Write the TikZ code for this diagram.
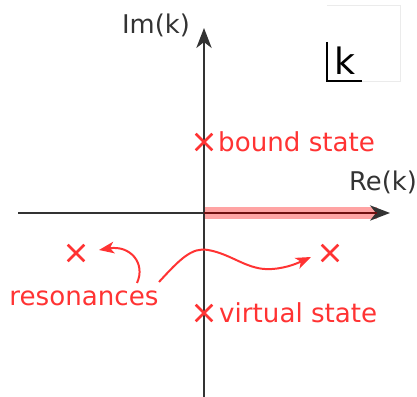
\documentclass[tikz,border=0pt]{standalone}
\usepackage{fontspec}
\setmainfont{DejaVu Sans}
\usetikzlibrary{arrows.meta,shapes.misc}
\definecolor{axisgray}{HTML}{333333}
\definecolor{polered}{HTML}{FF3333}
\tikzset{
  axis/.style={draw=axisgray, line width=2pt, -{Stealth[length=17pt,width=13pt,inset=5pt]}},
  pole/.style={cross out, draw=polered, line width=2.2pt, minimum size=12pt, inner sep=0pt},
  polelabel/.style={text=polered, font=\fontsize{22.3}{27}\selectfont, inner sep=0pt},
  pointer/.style={draw=polered, line width=1.7pt, -{Stealth[length=13pt,width=10pt,inset=3.5pt]}}
}
\begin{document}
\begin{tikzpicture}[x=0.03cm, y=0.03cm]
  \useasboundingbox (0,0) rectangle (417,397);
  % axes
  \coordinate (O) at (204,184);
  \coordinate (ybot) at (204,0);
  \coordinate (ytop) at (204,369);
  \coordinate (xleft) at (18,184);
  \coordinate (xright) at (390,184);
  \coordinate (cutend) at (377,184);
  \draw[polered, opacity=0.45, line width=10pt] (O) -- (cutend);
  \draw[axis] (ybot) -- (ytop);
  \draw[axis] (xleft) -- (xright);
  \draw[red!55!black, line width=2pt, opacity=0.7] (O) -- (cutend);
  \node[text=axisgray, font=\fontsize{22}{26}\selectfont, inner sep=0pt] (im) at (156,372) {Im(k)};
  \node[text=axisgray, font=\fontsize{22}{26}\selectfont, inner sep=0pt] (re) at (383,215) {Re(k)};
  % plane label
  \draw[black!8, line width=0.5pt] (327,392) -- (400,392) -- (400,316) -- (362,316);
  \draw[black, line width=1.3pt] (327,355) -- (327,316) -- (362,316);
  \node[font=\fontsize{31}{35}\selectfont, inner sep=0pt] (k) at (345,336) {k};
  % poles
  \node[pole] (bound) at (204,255) {};
  \node[polelabel, anchor=west] (boundlbl) at (218,255) {bound state};
  \node[pole] (virtual) at (204,84) {};
  \node[polelabel, anchor=west] (virtuallbl) at (219,84) {virtual state};
  \node[pole] (resL) at (76,144) {};
  \node[pole] (resR) at (330,144) {};
  \node[polelabel] (res) at (84,99) {resonances};
  \coordinate (startL) at (137,114);
  \coordinate (startR) at (159,115);
  \coordinate (tipL) at (99,147);
  \coordinate (tipR) at (311,140);
  \draw[pointer] (startL) .. controls (146,134) and (130,152) .. (tipL);
  \draw[pointer] (startR) .. controls (180,138) and (192,150) .. (208,147)
    .. controls (232,143) and (248,126) .. (272,128)
    .. controls (288,129) and (300,135) .. (tipR);
\end{tikzpicture}
\end{document}
